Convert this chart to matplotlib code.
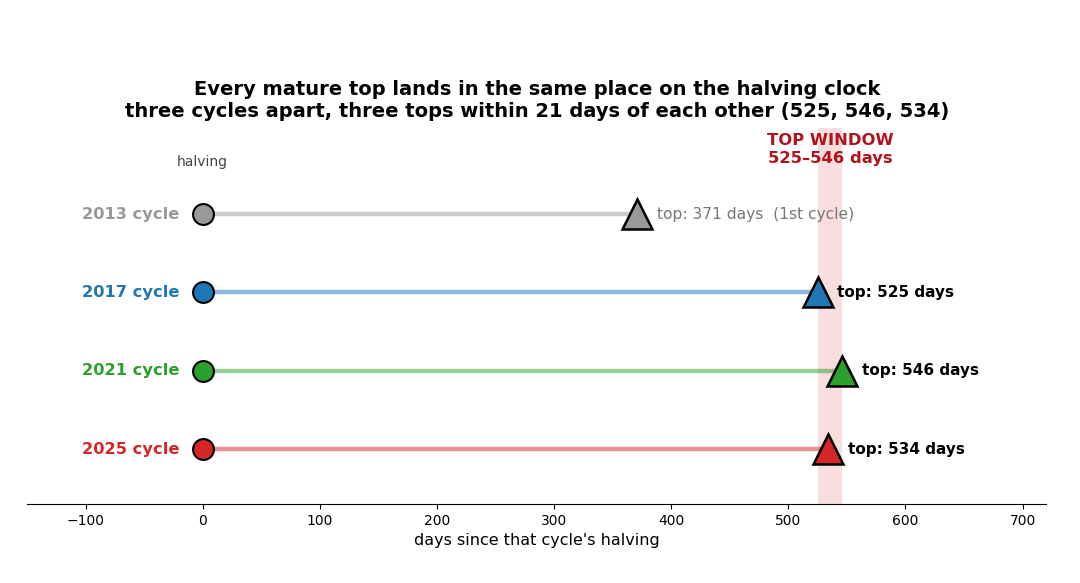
import matplotlib
matplotlib.use("Agg")
import matplotlib.pyplot as plt

cycles = ["2013 cycle", "2017 cycle", "2021 cycle", "2025 cycle"]
top_days = [371, 525, 546, 534]
colors = ["#999999", "#1f77b4", "#2ca02c", "#d62728"]
top_labels = ["top: 371 days  (1st cycle)", "top: 525 days", "top: 546 days", "top: 534 days"]
window = [525, 546]
rows = [3, 2, 1, 0]

fig = plt.figure(figsize=(10.8, 5.83), dpi=100)
ax = fig.add_axes([0.025, 0.1355, 0.9435, 0.645])

ax.axvspan(window[0], window[1], color="#d62728", alpha=0.15, lw=0, zorder=0)

for y, name, d, c, lab in zip(rows, cycles, top_days, colors, top_labels):
    ax.plot([0, d], [y, y], color=c, lw=3.2, alpha=0.5, solid_capstyle="butt", zorder=1)
    ax.plot(0, y, "o", ms=15, mfc=c, mec="black", mew=1.5, zorder=3)
    ax.plot(d, y, "^", ms=22, mfc=c, mec="black", mew=1.8, zorder=3)
    ax.text(-20, y, name, ha="right", va="center", color=c, fontsize=11.7, fontweight="bold")
    first = name.startswith("2013")
    ax.annotate(lab, (d, y), xytext=(14, 0), textcoords="offset points",
                ha="left", va="center", fontsize=11.2 if first else 11,
                color="#777777" if first else "black",
                fontweight="normal" if first else "bold")

ax.text(0, 3.67, "halving", ha="center", va="center", fontsize=10, color="#444444")
ax.text(sum(window) / 2, 3.82, "TOP WINDOW\n525\u2013546 days", ha="center", va="center",
        fontsize=11.8, fontweight="bold", color="#b2121b", linespacing=1.25)

ax.set_xlim(-150, 720)
ax.set_ylim(-0.7, 4.1)
ax.set_yticks([])
for s in ["top", "right", "left"]:
    ax.spines[s].set_visible(False)
ax.tick_params(axis="x", labelsize=10)
ax.set_xlabel("days since that cycle's halving", fontsize=11.5)

fig.suptitle("Every mature top lands in the same place on the halving clock\n"
             "three cycles apart, three tops within 21 days of each other (525, 546, 534)",
             fontsize=14.0, fontweight="bold", y=0.863, x=0.497)

fig.savefig("out.png", dpi=100)
